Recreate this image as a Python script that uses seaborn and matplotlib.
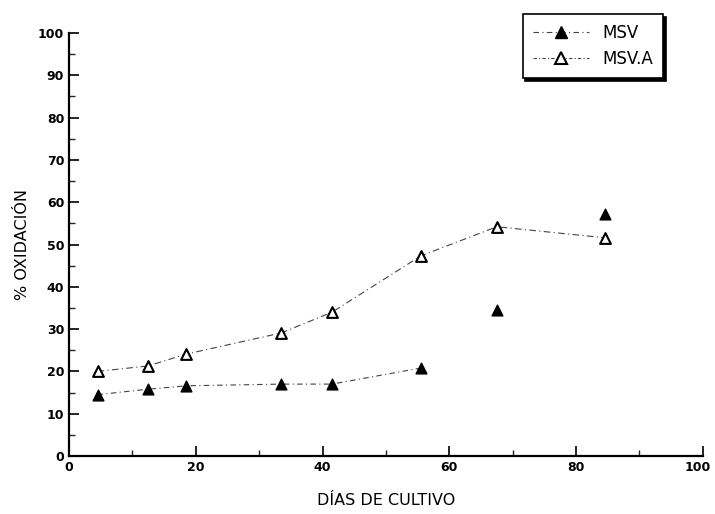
import matplotlib
matplotlib.use("Agg")
import matplotlib.pyplot as plt
import matplotlib.transforms as mtransforms
import seaborn as sns
import pandas as pd
from matplotlib.ticker import MultipleLocator
from matplotlib.lines import Line2D

dias = [4.5, 12.5, 18.5, 33.5, 41.5, 55.5, 67.5, 84.5]
msv = [14.5, 15.8, 16.6, 17.0, 17.0, 20.8, 34.5, 57.2]
msv_a = [20.0, 21.3, 24.1, 29.1, 34.0, 47.3, 54.2, 51.6]
x_ticks = [0, 20, 40, 60, 80, 100]
y_ticks = [0, 10, 20, 30, 40, 50, 60, 70, 80, 90, 100]

sns.set_theme(style="ticks")
plt.rcParams['font.family'] = ['DejaVu Sans']
plt.rcParams['text.color'] = 'black'
plt.rcParams['axes.labelcolor'] = 'black'

df_msv = pd.DataFrame({"dias": dias, "val": msv})
df_msva = pd.DataFrame({"dias": dias, "val": msv_a})

fig = plt.figure(figsize=(7.15, 5.14), dpi=100)
ax = fig.add_axes([0.0965, 0.1128, 0.8865, 0.823])

line_kw = dict(color="#444444", linewidth=0.8)
# connecting lines (MSV line only visible through first six points in the original)
sns.lineplot(data=df_msv.iloc[:6], x="dias", y="val", ax=ax,
             linestyle=(0, (5, 3, 1, 3)), **line_kw)
sns.lineplot(data=df_msva, x="dias", y="val", ax=ax,
             linestyle=(0, (6, 3, 1, 3)), **line_kw)
sns.scatterplot(data=df_msv, x="dias", y="val", ax=ax, marker="^", s=60,
                color="black", edgecolor="black", linewidth=1, zorder=5)
sns.scatterplot(data=df_msva, x="dias", y="val", ax=ax, marker="^", s=60,
                facecolor="white", edgecolor="black", linewidth=1.5, zorder=5)

ax.set_xlim(0, 100)
ax.set_ylim(0, 100)
ax.set_xticks(x_ticks)
ax.set_yticks(y_ticks)
ax.xaxis.set_minor_locator(MultipleLocator(10))
ax.yaxis.set_minor_locator(MultipleLocator(5))
ax.tick_params(axis="both", which="major", direction="in", length=7, width=1.2,
               labelsize=9, colors="black")
ax.tick_params(axis="both", which="minor", direction="in", length=4, width=1.0)
for lab in ax.get_xticklabels() + ax.get_yticklabels():
    lab.set_fontweight("bold")
last = ax.get_xticklabels()[-1]
last.set_transform(last.get_transform() +
                   mtransforms.ScaledTranslation(-5 / 100, 0, fig.dpi_scale_trans))
for s in ["top", "right"]:
    ax.spines[s].set_visible(False)
for s in ["left", "bottom"]:
    ax.spines[s].set_linewidth(1.6)
    ax.spines[s].set_color("black")

ax.set_xlabel("DÍAS DE CULTIVO", fontsize=11.5, labelpad=14)
ax.set_ylabel("% OXIDACIÓN", fontsize=11.5, labelpad=6)

h1 = Line2D([], [], color="#444444", linewidth=0.8, linestyle=(0, (5, 3, 1, 3)),
            marker="^", markersize=8, markerfacecolor="black", markeredgecolor="black")
h2 = Line2D([], [], color="#444444", linewidth=0.8, linestyle=(0, (3, 2, 1, 2)),
            marker="^", markersize=8, markerfacecolor="white", markeredgecolor="black",
            markeredgewidth=1.5)
leg = ax.legend([h1, h2], ["MSV", "MSV.A"], loc="upper right",
                bbox_to_anchor=(0.951, 1.065), frameon=True, fancybox=False,
                shadow={"color": "black", "alpha": 1}, edgecolor="black",
                fontsize=12, handlelength=3.4, borderpad=0.6, labelspacing=0.5)
leg.get_frame().set_linewidth(1.2)

fig.savefig("out.png", dpi=100)
